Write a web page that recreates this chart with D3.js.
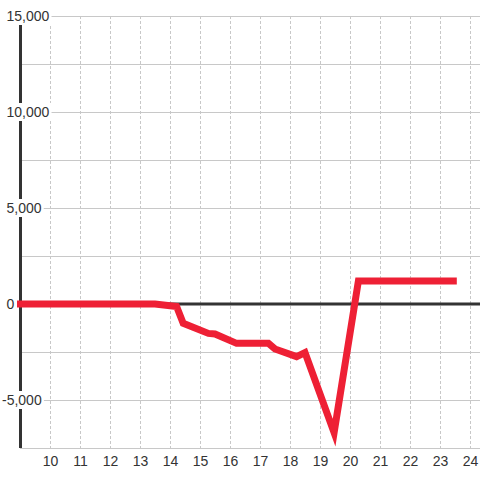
<!DOCTYPE html>
<html>
<head>
<meta charset="utf-8">
<script src="https://cdn.jsdelivr.net/npm/d3@7"></script>
<style>
  body { margin: 0; background: #fff; }
  svg { display: block; font-family: "Liberation Sans", Arial, sans-serif; }
</style>
</head>
<body>
<div id="chart"></div>
<script>
// 数据
const xValues = [8.9, 13.5, 14.22, 14.44, 15.28, 15.5, 16.22, 17.28, 17.5, 18.22, 18.5, 19.47, 20.28, 23.56];
const yValues = [0, 0, -130, -1000, -1530, -1560, -2050, -2050, -2340, -2740, -2530, -6700, 1200, 1200];
const xTicks = [10, 11, 12, 13, 14, 15, 16, 17, 18, 19, 20, 21, 22, 23, 24];
const yGrid = [-7500, -5000, -2500, 0, 2500, 5000, 7500, 10000, 12500, 15000];
const yLabels = [-5000, 0, 5000, 10000, 15000];

const width = 480, height = 480;

const svg = d3.select('#chart')
    .append('svg')
    .attr('width', width)
    .attr('height', height);

const xScale = d3.scaleLinear().domain([9, 9 + 460 / 30]).range([20, 480]);
const yScale = d3.scaleLinear().domain([-7500, 15000]).range([448, 16]);

// 竖向虚线网格
svg.append('g')
    .selectAll('line')
    .data(xTicks)
    .enter()
    .append('line')
    .attr('x1', d => xScale(d) + 0.5)
    .attr('x2', d => xScale(d) + 0.5)
    .attr('y1', yScale(15000))
    .attr('y2', yScale(-7500))
    .attr('stroke', '#c8c8c8')
    .attr('stroke-dasharray', '3,2');

// 横向网格
svg.append('g')
    .selectAll('line')
    .data(yGrid.filter(d => d !== 0))
    .enter()
    .append('line')
    .attr('x1', xScale(9))
    .attr('x2', width)
    .attr('y1', d => yScale(d) + 0.5)
    .attr('y2', d => yScale(d) + 0.5)
    .attr('stroke', '#c8c8c8');

// 零线
svg.append('line')
    .attr('x1', xScale(9))
    .attr('x2', width)
    .attr('y1', yScale(0))
    .attr('y2', yScale(0))
    .attr('stroke', '#333')
    .attr('stroke-width', 3);

// 纵轴
svg.append('line')
    .attr('x1', xScale(9) + 0.5)
    .attr('x2', xScale(9) + 0.5)
    .attr('y1', yScale(15000))
    .attr('y2', yScale(-7500))
    .attr('stroke', '#333')
    .attr('stroke-width', 3);

// 数据线
const points = xValues.map((x, i) => [x, yValues[i]]);
const line = d3.line()
    .x(d => xScale(d[0]))
    .y(d => yScale(d[1]));

svg.append('path')
    .datum(points)
    .attr('d', line)
    .attr('fill', 'none')
    .attr('stroke', '#ee2035')
    .attr('stroke-width', 7)
    .attr('stroke-linejoin', 'miter');

// 纵轴标签（白底）
const fmt = d => d3.format(',')(d).replace('\u2212', '-');
const yl = svg.append('g')
    .selectAll('g')
    .data(yLabels)
    .enter()
    .append('g')
    .attr('transform', d => `translate(${d < 0 ? 2 : 6.5},${yScale(d)})`);

yl.append('text')
    .attr('dy', '0.35em')
    .attr('font-size', 14)
    .attr('fill', '#333')
    .text(d => fmt(d))
    .each(function (d) {
        if (d === 0) return;
        const bb = this.getBBox();
        d3.select(this.parentNode).insert('rect', 'text')
            .attr('x', bb.x - 1)
            .attr('y', -9)
            .attr('width', bb.width + 3)
            .attr('height', 18)
            .attr('fill', '#fff');
    });

// 横轴标签
svg.append('g')
    .selectAll('text')
    .data(xTicks)
    .enter()
    .append('text')
    .attr('x', d => xScale(d) + 0.5)
    .attr('y', 466)
    .attr('text-anchor', 'middle')
    .attr('font-size', 14)
    .attr('fill', '#333')
    .text(d => d);
</script>
</body>
</html>
